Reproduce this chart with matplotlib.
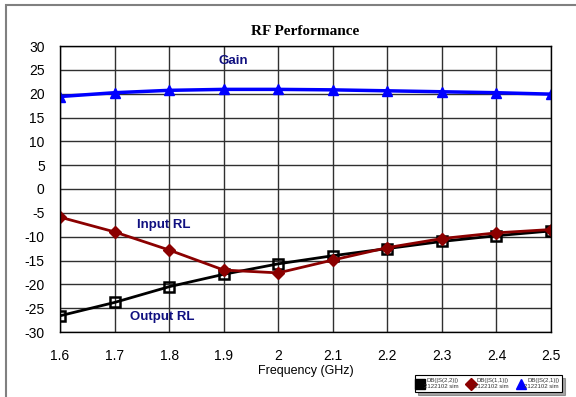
import numpy as np
import matplotlib.pyplot as plt
from matplotlib.patches import Rectangle
from matplotlib.lines import Line2D

plt.rcParams['font.family'] = ['Liberation Sans', 'DejaVu Sans']
plt.rcParams['axes.unicode_minus'] = False

# Swept frequency points
freq = [1.6, 1.7, 1.8, 1.9, 2.0, 2.1, 2.2, 2.3, 2.4, 2.5]

# Simulated S-parameters, dB
s22 = [-26.6, -23.8, -20.5, -17.9, -15.7, -14.0, -12.5, -11.0, -9.8, -8.8]
s11 = [-5.9, -9.0, -12.8, -17.0, -17.6, -14.9, -12.3, -10.4, -9.2, -8.5]
s21 = [19.4, 20.2, 20.7, 20.9, 20.9, 20.8, 20.6, 20.4, 20.2, 19.9]

labels = ['DB(|S(2,2)|)\n2122102 sim', 'DB(|S(1,1)|)\n2122102 sim', 'DB(|S(2,1)|)\n2122102 sim']

fig = plt.figure(figsize=(5.76, 3.97), dpi=100)
W, H = 576, 397
ax = fig.add_axes([60/W, 1-332/H, 491/W, 286/H])

# outer frame
fig.patches.append(Rectangle((6/W, -0.1), 1.2, 1-5/H+0.1, transform=fig.transFigure,
                             fill=False, edgecolor='#808080', lw=1.5))

ax.plot(freq, s22, '-', color='black', lw=2, marker='s', ms=7, mfc='none', mew=1.8)
ax.plot(freq, s11, '-', color='#8b0000', lw=2, marker='D', ms=6)
ax.plot(freq, s21, '-', color='#0000ff', lw=2.5, marker='^', ms=7.5)

ax.set_xlim(1.6, 2.5)
ax.set_ylim(-30, 30)
ax.set_xticks(np.arange(1.6, 2.51, 0.1))
ax.set_xticklabels(['1.6', '1.7', '1.8', '1.9', '2', '2.1', '2.2', '2.3', '2.4', '2.5'])
ax.set_yticks(np.arange(-30, 31, 5))
ax.tick_params(axis='x', length=0, labelsize=10, pad=12)
ax.tick_params(axis='y', length=0, labelsize=10, pad=11)
ax.grid(True, color='#303030', lw=1)
for s in ax.spines.values():
    s.set_color('black')
    s.set_linewidth(1)

ax.set_title('RF Performance', fontsize=11, fontweight='bold', family='Liberation Serif', pad=8)
ax.set_xlabel('Frequency (GHz)', fontsize=9, labelpad=2)

txt = dict(color='#101080', fontsize=9.5, fontweight='bold', ha='center', va='center')
ax.text(1.918, 26.9, 'Gain', **txt)
ax.text(1.79, -7.5, 'Input RL', **txt)
ax.text(1.788, -26.9, 'Output RL', **txt)

# legend keys show the markers only
handles = [
    Line2D([], [], ls='none', color='black', marker='s', ms=6.5, mfc='black', mew=1),
    Line2D([], [], ls='none', color='#8b0000', marker='D', ms=6),
    Line2D([], [], ls='none', color='#0000ff', marker='^', ms=7.5),
]
leg = fig.legend(handles, labels, loc='lower left', bbox_to_anchor=(415/W, 1-392/H, 147/W, 25/H),
                 ncol=3, mode='expand', fontsize=4.3, frameon=True, fancybox=False, shadow=True,
                 handlelength=0.8, handletextpad=0.2, columnspacing=0.1, borderpad=0.5,
                 borderaxespad=0)
for t in leg.get_texts():
    t.set_multialignment('right')
    t.set_color('#333333')
leg.get_frame().set_edgecolor('black')
leg.get_frame().set_linewidth(0.8)

fig.savefig('out.png', dpi=100)
